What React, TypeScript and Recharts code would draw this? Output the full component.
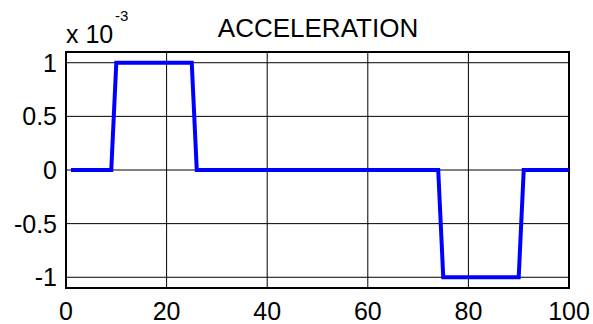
import React from 'react';
import {
  LineChart,
  Line,
  XAxis,
  YAxis,
  CartesianGrid,
  ReferenceArea,
} from 'recharts';

// 加速度曲线（单位 x 10^-3）
const timeValues = [1, 9, 10, 25, 26, 74, 75, 90, 91, 100];
const accelValues = [0, 0, 1, 1, 0, 0, -1, -1, 0, 0];
const xTicks = [0, 20, 40, 60, 80, 100];
const yTicks = [-1, -0.5, 0, 0.5, 1];

const data = timeValues.map((t, i) => ({ t, a: accelValues[i] }));

const FONT = '"Liberation Sans", Arial, sans-serif';

export default function App() {
  return (
    <div style={{ position: 'absolute', left: 0, top: 0, width: 593, height: 324, background: '#fff' }}>
      <LineChart
        width={593}
        height={324}
        data={data}
        margin={{ top: 52, right: 24, bottom: 0, left: 0 }}
      >
        <CartesianGrid stroke="#000" strokeWidth={1} />
        <XAxis
          dataKey="t"
          type="number"
          domain={[0, 100]}
          ticks={xTicks}
          height={36}
          tickSize={0}
          tickMargin={14}
          axisLine={false}
          tickLine={false}
          tick={{ fill: '#000', fontSize: 25, fontFamily: FONT }}
        />
        <YAxis
          type="number"
          domain={[-1.1, 1.1]}
          ticks={yTicks}
          width={66}
          allowDataOverflow
          tickSize={0}
          tickMargin={9}
          axisLine={false}
          tickLine={false}
          tickFormatter={(v: number) => String(v)}
          tick={{ fill: '#000', fontSize: 25, fontFamily: FONT }}
        />
        <ReferenceArea
          x1={0}
          x2={100}
          y1={-1.1}
          y2={1.1}
          fill="none"
          stroke="#000"
          strokeWidth={2}
          ifOverflow="visible"
        />
        <Line
          type="linear"
          dataKey="a"
          stroke="#0000ff"
          strokeWidth={4}
          dot={false}
          isAnimationActive={false}
        />
      </LineChart>
      <svg
        width={593}
        height={324}
        style={{ position: 'absolute', left: 0, top: 0, pointerEvents: 'none' }}
      >
        <text x={318} y={37} textAnchor="middle" fontSize={26} fontFamily={FONT} fill="#000">
          ACCELERATION
        </text>
        <text x={66} y={43} fontSize={25} fontFamily={FONT} fill="#000">
          x 10
        </text>
        <text x={115} y={21} fontSize={15} fontFamily={FONT} fill="#000">
          -3
        </text>
      </svg>
    </div>
  );
}
